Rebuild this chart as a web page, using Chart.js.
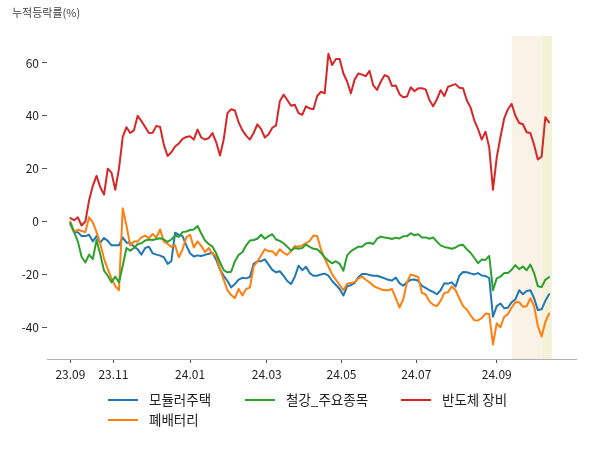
<!DOCTYPE html>
<html>
<head>
<meta charset="utf-8">
<script src="https://cdn.jsdelivr.net/npm/chart.js@4.4.1/dist/chart.umd.min.js"></script>
<style>
  html, body { margin:0; padding:0; background:#fff; }
  #wrap { position:relative; width:600px; height:450px; font-family:'Noto Sans CJK KR','Noto Sans',sans-serif; }
  #ytitle { position:absolute; left:12px; top:4px; font-size:11px; color:#444; white-space:nowrap; }
  .lg-line { position:absolute; width:30px; height:2px; }
  .lg-text { position:absolute; font-size:13.5px; color:#222; line-height:18px; white-space:nowrap; }
</style>
</head>
<body>
<div id="wrap">
  <canvas id="c" width="600" height="450"></canvas>
  <div id="ytitle">누적등락률(%)</div>
  <div id="legend"></div>
</div>
<script>
// ---- data (sampled every 2 trading days, index = trading-day number) ----
const seriesNames = ['모듈러주택', '폐배터리', '철강_주요종목', '반도체 장비'];
const seriesColors = ['#1f77b4', '#ff7f0e', '#2ca02c', '#d62728'];

const modular = [-1,-4,-4,-5.5,-5.5,-5,-7.5,-5.5,-8,-6.2,
 -7.3,-9,-9,-9,-6,-8,-8,-9.5,-10.5,-12.5,
 -10,-9.5,-12,-12.5,-12.9,-13.5,-16,-15,-4.2,-5,
 -5.5,-9,-12,-13.2,-12.8,-13,-12.6,-12.2,-11.8,-14.5,
 -18,-20.5,-22.5,-24.9,-23.6,-22,-21.3,-21.5,-21,-16,
 -15,-15,-14.3,-16.3,-18.3,-19.2,-18.8,-20.5,-22.5,-23.6,
 -21,-16.7,-18.4,-17.1,-19.5,-20.5,-20.5,-20,-19.7,-20.5,
 -22.5,-24,-25.5,-28,-24.5,-24.1,-23.2,-21.1,-19.8,-19.8,
 -20.2,-20.5,-20.5,-21,-21.5,-22,-22.3,-21.2,-23.3,-24.3,
 -23,-22,-21.9,-22.4,-24.3,-25.1,-26,-26.6,-27.5,-26,
 -23.3,-23.5,-23,-24.6,-20.5,-19.1,-19.2,-19.6,-20,-19.5,
 -20.4,-20.6,-21.4,-36,-32,-31,-32.8,-32.6,-30.5,-29.4,
 -26,-27.5,-26.3,-26,-29,-33.5,-33.2,-30,-27.5];

const battery = [0,-4,-3,-3.6,-4,1.6,-0.3,-4,-8.5,-14,
 -18,-21.5,-24.4,-26,5,-1.5,-9.1,-7.5,-7.5,-6,
 -5.3,-6.3,-4.7,-6,-3,-7.6,-8.5,-9.6,-9,-13.5,
 -10.5,-6,-5,-9.8,-7.5,-9.2,-11.5,-10,-12.3,-13,
 -18,-22,-26,-27.8,-29,-25.5,-28,-25.5,-25,-17,
 -15.2,-12.8,-10.5,-11.2,-11.2,-12.8,-10.5,-11.8,-12.6,-11.2,
 -9.3,-9.5,-9,-8.2,-7.3,-5.3,-5.5,-10.5,-14,-17,
 -20,-22,-24,-26,-23.5,-23.2,-23,-21.5,-20.8,-22,
 -23,-24.3,-25,-25.6,-26,-26,-25.5,-29,-32.5,-29.5,
 -23,-20,-20.5,-21,-27,-27.6,-30.2,-31.5,-32,-30,
 -27,-26.7,-24.5,-26,-29,-32,-33.3,-35.5,-37.3,-37.4,
 -36.5,-34.8,-35,-46.5,-38.5,-40,-36,-35,-32.5,-30.5,
 -30.5,-32.2,-32,-29,-32,-39.5,-43.5,-38,-34.8];

const steel = [-0.5,-4,-7.5,-13.3,-15.5,-12.5,-14.2,-7,-12.5,-18.6,
 -20.5,-23,-20.8,-23,-16.7,-10,-11,-10,-8.5,-8.2,
 -7.2,-6.8,-7,-6.6,-6.3,-6.8,-7.7,-6.8,-5.3,-5.8,
 -4,-3.8,-3.2,-3,-1.7,-4.5,-7.2,-8.5,-9.5,-12,
 -15.4,-18.4,-19.2,-19,-15,-12.6,-11.6,-9,-7.2,-7,
 -6.5,-5,-6.5,-5.5,-4.8,-6.8,-7.3,-8.2,-9.5,-11,
 -10,-10.3,-10,-8.7,-9.6,-10.3,-10.5,-11.8,-13.5,-14.8,
 -15.8,-15,-16,-18.6,-12.8,-11.3,-10.3,-9.5,-9.5,-8.3,
 -8,-8.5,-6.5,-5.7,-6,-6.2,-6.6,-6.1,-6.4,-5.6,
 -5.5,-4.4,-5.2,-4.8,-6,-6,-6.5,-6,-7.6,-9,
 -9.6,-9.9,-10.3,-9.8,-9,-8.8,-10.5,-11.8,-13.7,-15.8,
 -14.4,-14.5,-13,-26,-21.5,-20.8,-19.5,-19.5,-18.2,-16.5,
 -18,-17,-18.4,-16.3,-19.5,-24.5,-24.8,-22,-21];

const semicon = [1.3,0.5,1.6,-1.5,0,8,13.5,17.3,13,10.2,
 20,18.5,12,20,32,35.7,33.5,34.5,40,38,
 35.8,33.5,33.6,36.2,35.8,29,24.8,26.2,28.4,29.5,
 31.3,32,32.3,31,34.8,31.8,31,31.6,33.5,30,
 25,31,41,42.5,42,37.5,34.5,32.5,31,33.5,
 36.8,35,31.8,33,35.5,36.4,45.5,48,46,43.8,
 44.2,41,40.4,43.6,42.8,42.5,47.5,49.1,48.5,63.5,
 59.2,61.5,61.5,56,53,48.5,53.7,56,55.6,55,
 57,51.5,49.8,52.9,55.4,54.8,51.3,51.5,48.2,47,
 47.3,50.8,49.3,50.4,50.4,50,46,43.6,46.2,49.7,
 47.5,51,51.5,52,50.6,50.4,45.9,43.2,38.3,35,
 31,34,28,12,24.2,32,39,42.5,44.5,40,
 37.3,36.8,33.8,33.5,29,23.5,24.5,39.5,37.5];

const sampleStep = 2; // trading days between samples
const tickPositions = [0, 23, 64, 105, 145, 185, 228];
const tickLabels = ['23.09', '23.11', '24.01', '24.03', '24.05', '24.07', '24.09'];
const yTicks = [-40, -20, 0, 20, 40, 60];
const bands = [[236, 252, '#faf1e7'], [252, 257.5, '#f4f1d9']];

const allSeries = [modular, battery, steel, semicon];
const drawOrder = [4, 3, 2, 1];

const datasets = allSeries.map((vals, i) => ({
  label: seriesNames[i],
  data: vals.map((v, k) => ({ x: k * sampleStep, y: v })),
  borderColor: seriesColors[i],
  backgroundColor: seriesColors[i],
  borderWidth: 2,
  pointRadius: 0,
  tension: 0,
  borderJoinStyle: 'round',
  borderCapStyle: 'round',
  order: drawOrder[i],
  fill: false
}));

const bandPlugin = {
  id: 'bands',
  beforeDatasetsDraw(chart) {
    const { ctx, chartArea, scales } = chart;
    ctx.save();
    bands.forEach(([a, b, col]) => {
      const x1 = scales.x.getPixelForValue(a);
      const x2 = scales.x.getPixelForValue(b);
      ctx.fillStyle = col;
      ctx.fillRect(x1, chartArea.top, x2 - x1, chartArea.bottom - chartArea.top);
    });
    ctx.restore();
  }
};

const fontFam = "'Noto Sans CJK KR','Noto Sans',sans-serif";

new Chart(document.getElementById('c'), {
  type: 'line',
  data: { datasets },
  options: {
    responsive: false,
    animation: false,
    devicePixelRatio: 1,
    layout: { padding: { left: 0, right: 24, top: 36, bottom: 66 } },
    plugins: { legend: { display: false }, tooltip: { enabled: false } },
    scales: {
      x: {
        type: 'linear',
        min: -12.5,
        max: 270.4,
        border: { display: true, color: '#b0b0b0', width: 1 },
        grid: { display: true, drawOnChartArea: false, drawTicks: true, tickLength: 4, tickColor: '#555' },
        ticks: {
          autoSkip: false, maxRotation: 0, padding: 4,
          color: '#222', font: { family: fontFam, size: 12 },
          callback: (v) => { const i = tickPositions.indexOf(v); return i >= 0 ? tickLabels[i] : ''; }
        },
        afterBuildTicks: (s) => { s.ticks = tickPositions.map(v => ({ value: v })); },
        afterFit: (s) => { s.height = 25; }
      },
      y: {
        type: 'linear',
        min: -52,
        max: 70.2,
        border: { display: false },
        grid: { display: true, drawOnChartArea: false, drawTicks: true, tickLength: 5, tickColor: '#555' },
        ticks: { padding: 3, color: '#222', font: { family: fontFam, size: 12 } },
        afterBuildTicks: (s) => { s.ticks = yTicks.map(v => ({ value: v })); },
        afterFit: (s) => { s.width = 47; }
      }
    }
  },
  plugins: [bandPlugin]
});

// ---- HTML legend (3 columns, column-major like the reference) ----
const legendSlots = [[108, 400], [108, 420], [245, 400], [401, 400]];
const lg = document.getElementById('legend');
seriesNames.forEach((name, i) => {
  const [lx, ly] = legendSlots[i];
  const line = document.createElement('div');
  line.className = 'lg-line';
  line.style.left = lx + 'px';
  line.style.top = (ly - 1) + 'px';
  line.style.background = seriesColors[i];
  const txt = document.createElement('div');
  txt.className = 'lg-text';
  txt.style.left = (lx + 41) + 'px';
  txt.style.top = (ly - 10) + 'px';
  txt.textContent = name;
  lg.appendChild(line);
  lg.appendChild(txt);
});
</script>
</body>
</html>
